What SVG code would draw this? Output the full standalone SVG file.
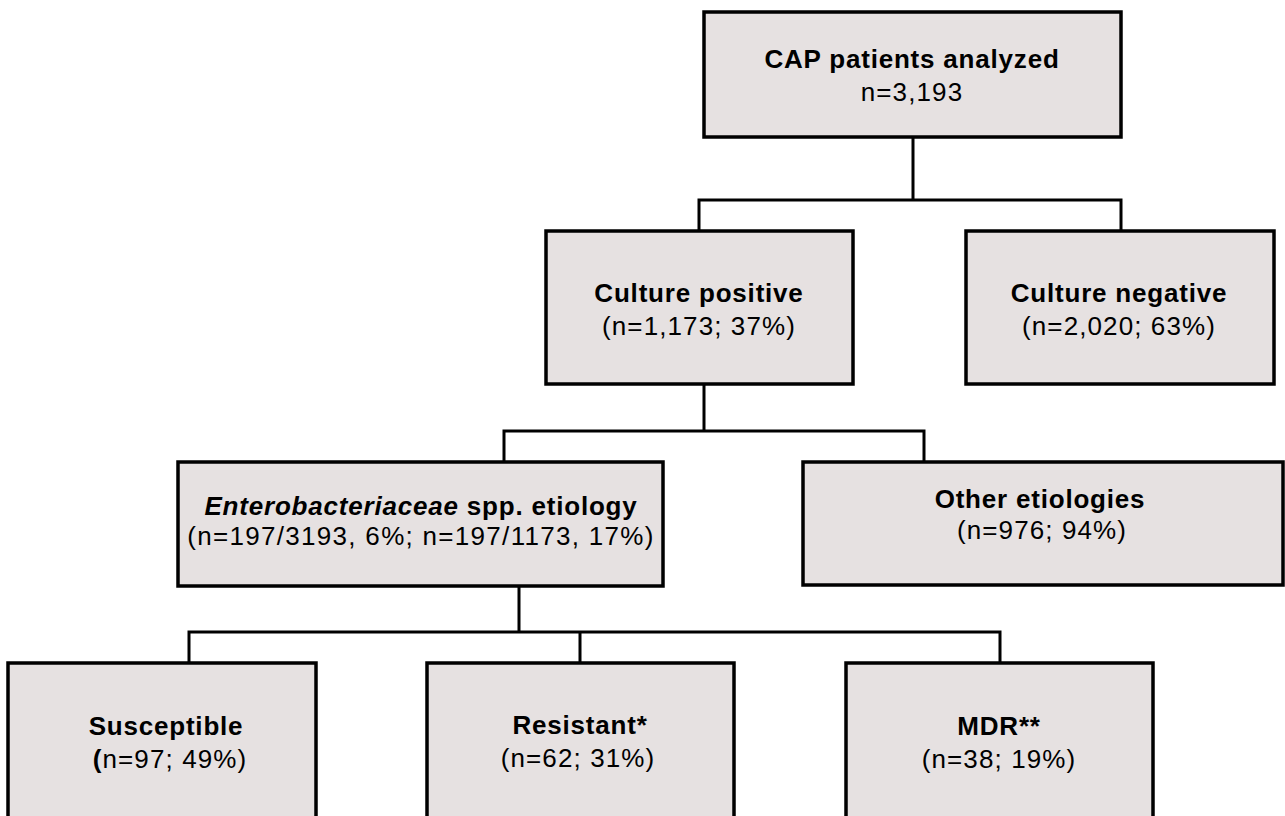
<svg xmlns="http://www.w3.org/2000/svg" width="1285" height="816" viewBox="0 0 1285 816">
<style>
.box{fill:#e6e1e1;stroke:#000;stroke-width:3.5}
.con{fill:none;stroke:#000;stroke-width:3}
text{font-family:"Liberation Sans",Arial,sans-serif;font-size:26px;text-anchor:middle;fill:#000}
.b{font-weight:bold;letter-spacing:0.8px}
.r{letter-spacing:1.1px}
</style>
<rect width="1285" height="816" fill="#fff"/>
<g id="connectors">
<path class="con" d="M913 137 V200 M699 231 V200 H1121 V231"/>
<path class="con" d="M704 384 V431 M504 462 V431 H924 V462"/>
<path class="con" d="M519 586 V632 M189 663 V632 H1000 V663 M580 632 V663"/>
</g>
<g id="node-cap">
<rect class="box" x="704" y="12" width="417" height="125"/>
<text class="b" x="912" y="68">CAP patients analyzed</text>
<text class="r" x="912" y="101">n=3,193</text>
</g>
<g id="node-culture-positive">
<rect class="box" x="546" y="231" width="307" height="153"/>
<text class="b" x="699" y="302">Culture positive</text>
<text class="r" x="699" y="335">(n=1,173; 37%)</text>
</g>
<g id="node-culture-negative">
<rect class="box" x="966" y="231" width="308" height="153"/>
<text class="b" x="1119" y="302">Culture negative</text>
<text class="r" x="1119" y="335">(n=2,020; 63%)</text>
</g>
<g id="node-entero">
<rect class="box" x="178" y="462" width="485" height="124"/>
<text class="b" x="421" y="515"><tspan font-style="italic">Enterobacteriaceae</tspan> spp. etiology</text>
<text class="r" x="421" y="545" style="letter-spacing:1.3px">(n=197/3193, 6%; n=197/1173, 17%)</text>
</g>
<g id="node-other">
<rect class="box" x="803" y="462" width="480" height="123"/>
<text class="b" x="1040" y="508">Other etiologies</text>
<text class="r" x="1042" y="539">(n=976; 94%)</text>
</g>
<g id="node-susceptible">
<rect class="box" x="8" y="663" width="308" height="170"/>
<text class="b" x="166" y="735">Susceptible</text>
<text class="r" x="170" y="768"><tspan font-weight="bold">(</tspan>n=97; 49%)</text>
</g>
<g id="node-resistant">
<rect class="box" x="427" y="663" width="307" height="170"/>
<text class="b" x="580" y="734">Resistant*</text>
<text class="r" x="578" y="767">(n=62; 31%)</text>
</g>
<g id="node-mdr">
<rect class="box" x="846" y="663" width="307" height="170"/>
<text class="b" x="999" y="735">MDR**</text>
<text class="r" x="999" y="768">(n=38; 19%)</text>
</g>
</svg>
